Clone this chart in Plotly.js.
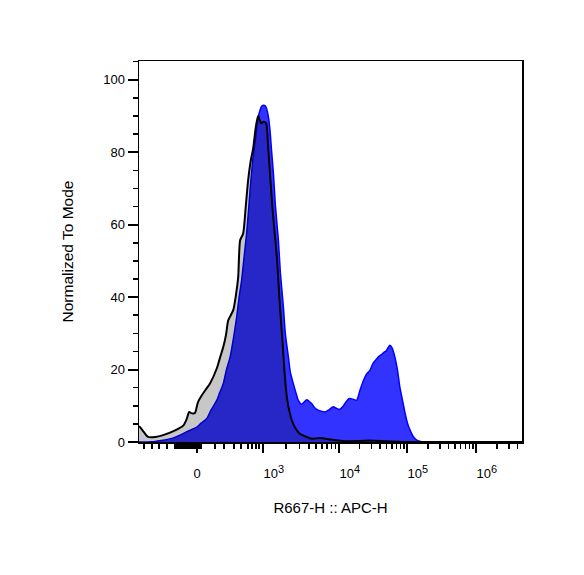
<!DOCTYPE html>
<html>
<head>
<meta charset="utf-8">
<script src="https://cdn.plot.ly/plotly-3.0.1.min.js"></script>
<style>html,body{margin:0;padding:0;background:#fff;}#chart{width:584px;height:575px;}</style>
</head>
<body>
<div id="chart"></div>
<script>
// X values are display channels (0-1000) of the biexponential R667-H :: APC-H axis
const ctrlX = [0, 3, 13, 24, 42, 63, 90, 116, 125, 131, 138, 146, 154, 164, 175, 185, 203, 211, 220, 227, 233, 246, 253, 259, 264, 272, 279, 285, 292, 298, 305, 311, 319, 325, 332, 337, 342, 350, 360, 367, 375, 380, 386, 392, 399, 407, 420, 433, 451, 473, 499, 542, 577, 603, 642, 674, 708, 1000];
const ctrlY = [4.3, 4.1, 2.7, 1.4, 1.4, 1.9, 3.0, 4.6, 6.5, 8.3, 7.9, 8.0, 11.0, 12.9, 14.6, 16.1, 20.3, 23.1, 26.2, 29.5, 33.6, 36.4, 40.5, 45.6, 55.7, 57.6, 65.4, 72.3, 77.8, 81.0, 87.0, 90.0, 88.0, 88.4, 88.0, 82.0, 74.1, 62.6, 51.1, 39.1, 27.2, 19.3, 12.4, 8.8, 6.0, 4.1, 2.3, 1.6, 0.9, 1.1, 0.7, 0.2, 0.3, 0.4, 0.2, 0.05, 0, 0];

const sampleX = [0, 33, 63, 86, 107, 128, 151, 162, 177, 188, 203, 211, 220, 228, 238, 247, 255, 261, 268, 274, 281, 286, 290, 294, 298, 303, 307, 311, 316, 320, 325, 329, 333, 338, 342, 346, 351, 356, 364, 369, 377, 382, 390, 395, 403, 410, 416, 425, 431, 438, 444, 451, 457, 464, 473, 486, 496, 507, 514, 523, 533, 540, 549, 559, 568, 577, 586, 594, 603, 611, 621, 627, 634, 640, 645, 650, 655, 661, 668, 675, 681, 688, 695, 701, 708, 715, 725, 738, 760, 1000];
const sampleY = [0, 0.05, 0.5, 1.0, 1.9, 3.0, 4.1, 5.2, 6.5, 8.8, 11.5, 13.7, 16.1, 19.8, 23.5, 28.9, 34.5, 39.7, 44.7, 50.7, 57.6, 64.0, 69.5, 74.5, 78.7, 82.8, 86.1, 89.4, 91.6, 92.7, 93.0, 92.9, 92.1, 89.7, 86.1, 80.6, 74.1, 65.4, 55.7, 46.9, 37.3, 30.0, 23.5, 19.3, 16.1, 13.5, 11.5, 10.4, 11.0, 11.7, 11.2, 10.6, 9.7, 9.0, 8.6, 8.3, 8.9, 9.7, 9.4, 9.0, 9.9, 11.0, 12.0, 11.8, 11.5, 14.3, 17.0, 18.7, 19.8, 21.7, 23.0, 23.7, 24.2, 24.8, 25.1, 26.0, 26.7, 25.9, 23.5, 19.8, 15.2, 11.5, 7.8, 5.2, 3.2, 1.7, 0.5, 0.05, 0, 0];

// Axis ticks (channel positions of decade labels)
const xTickVals = [151.4, 323.8, 522.2, 699.7, 879.9];
const xTickBase = ['0', '10', '10', '10', '10'];
const xTickExp = ['', '3', '4', '5', '6'];
const xLowMinorTicks = [13, 34, 52, 73, 94, 99, 104, 110, 115, 120, 125, 131, 136, 141, 146, 157, 162, 198, 222, 248, 266, 285, 295, 305, 313];
const yTickVals = [0, 20, 40, 60, 80, 100];

// minor ticks of the log decades
const xMinor = xLowMinorTicks.slice();
for (let i = 1; i < xTickVals.length; i++) {
  const a = xTickVals[i];
  const w = i + 1 < xTickVals.length ? xTickVals[i + 1] - a : xTickVals[i] - xTickVals[i - 1];
  for (let k = 2; k <= 9; k++) {
    const p = a + Math.log10(k) * w;
    if (p < 1000) xMinor.push(p);
  }
}

// decade labels start at their tick (FlowJo style): pad left with figure spaces
const PAD = '\u2007\u2007\u2007';
const xTickText = xTickBase.map((b, i) => xTickExp[i]
  ? PAD + b + '<sup><span style="font-size:11px">' + xTickExp[i] + '</span></sup>'
  : b);

const FONT = 'Liberation Sans, Arial, sans-serif';

const traces = [
  {
    x: sampleX, y: sampleY, type: 'scatter', mode: 'lines',
    line: {color: 'rgb(0,0,255)', width: 1.5, shape: 'spline', smoothing: 0.6},
    fill: 'tozeroy', fillcolor: 'rgba(0,0,255,0.8)',
    hoverinfo: 'skip', showlegend: false
  },
  {
    x: ctrlX, y: ctrlY, type: 'scatter', mode: 'lines',
    line: {color: 'rgb(0,0,0)', width: 2, shape: 'spline', smoothing: 0.6},
    fill: 'tozeroy', fillcolor: 'rgba(0,0,0,0.22)',
    hoverinfo: 'skip', showlegend: false
  }
];

const layout = {
  width: 584, height: 575,
  margin: {l: 139, r: 62, t: 61, b: 133, pad: 0},
  paper_bgcolor: '#ffffff', plot_bgcolor: '#ffffff',
  font: {family: FONT, size: 13, color: '#000'},
  showlegend: false,
  xaxis: {
    range: [0, 1000], autorange: false, fixedrange: true,
    showgrid: false, zeroline: false,
    showline: true, linecolor: '#000', linewidth: 1.5, mirror: true,
    tickmode: 'array', tickvals: xTickVals, ticktext: xTickText,
    ticks: 'outside', ticklen: 9, tickwidth: 2, tickcolor: '#000',
    ticklabelstandoff: 10,
    tickfont: {family: FONT, size: 13, color: '#000'},
    minor: {tickmode: 'array', tickvals: xMinor, ticks: 'outside', ticklen: 5, tickwidth: 1.5, tickcolor: '#000'},
    title: {text: 'R667-H :: APC-H', font: {family: FONT, size: 15, color: '#000'}, standoff: 22}
  },
  yaxis: {
    range: [0, 105.2], autorange: false, fixedrange: true,
    showgrid: false, zeroline: false,
    showline: true, linecolor: '#000', linewidth: 1.5, mirror: true,
    tickmode: 'array', tickvals: yTickVals,
    ticks: 'outside', ticklen: 10, tickwidth: 2, tickcolor: '#000',
    tickfont: {family: FONT, size: 13, color: '#000'},
    minor: {dtick: 5, tick0: 0, ticks: 'outside', ticklen: 5, tickwidth: 1.5, tickcolor: '#000'},
    title: {text: 'Normalized To Mode', font: {family: FONT, size: 15.5, color: '#000'}, standoff: 26}
  }
};

Plotly.newPlot('chart', traces, layout, {displayModeBar: false, staticPlot: true});
</script>
</body>
</html>
